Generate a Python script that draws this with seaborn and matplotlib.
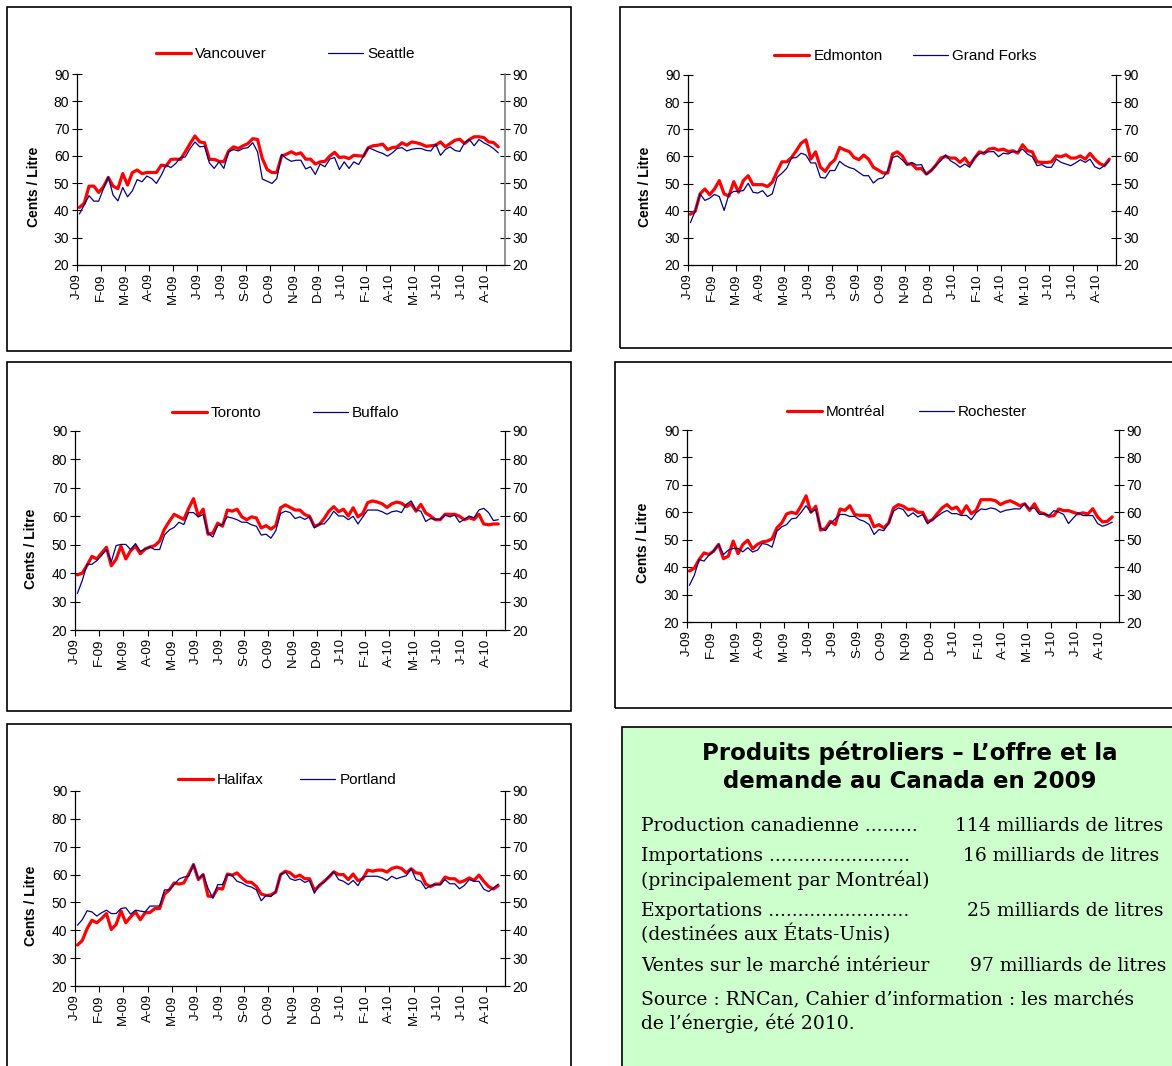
import matplotlib
matplotlib.use("Agg")
import matplotlib.pyplot as plt
from matplotlib.patches import Rectangle
import seaborn as sns

W, H = 1172, 1066

# weekly prices, Jan 2009 - Sep 2010 (cents / litre)
week_labels = ["J-09", "F-09", "M-09", "A-09", "M-09", "J-09", "J-09", "S-09", "O-09",
               "N-09", "D-09", "J-10", "F-10", "A-10", "M-10", "J-10", "J-10", "A-10"]
weeks = list(range(88))

vancouver = [41.1, 42.6, 48.9, 48.9, 46.6, 48.7, 52.1, 48.9, 48.0, 53.5,
             49.3, 53.9, 54.8, 53.5, 53.9, 53.9, 53.9, 56.6, 56.3, 58.7,
             58.8, 58.7, 61.5, 64.5, 67.3, 65.1, 64.8, 58.7, 58.7, 58.0,
             57.8, 61.8, 63.3, 62.7, 63.7, 64.5, 66.3, 66.0, 59.0, 55.0,
             53.9, 53.9, 59.9, 60.6, 61.5, 60.6, 61.1, 58.8, 58.8, 57.0,
             57.8, 58.0, 59.9, 61.3, 59.4, 59.6, 59.0, 60.2, 60.0, 59.9,
             63.0, 63.7, 63.9, 64.3, 62.3, 63.0, 63.3, 64.8, 63.9, 65.1,
             64.8, 64.3, 63.5, 63.7, 63.9, 65.1, 63.3, 64.5, 65.7, 66.1,
             64.5, 66.0, 67.0, 67.0, 66.7, 65.1, 64.9, 63.3]
seattle = [38.7, 42.0, 45.4, 43.4, 43.4, 48.0, 52.3, 45.6, 43.5, 48.4,
           45.0, 47.2, 51.3, 50.5, 52.6, 51.7, 49.9, 52.9, 56.6, 55.7,
           57.2, 59.4, 59.6, 62.7, 65.1, 63.3, 63.5, 57.4, 55.4, 57.8,
           55.4, 61.5, 62.3, 61.8, 62.7, 63.0, 64.8, 61.5, 51.5, 50.7,
           49.9, 51.7, 60.6, 59.0, 58.0, 58.4, 58.4, 55.2, 56.0, 53.2,
           57.0, 56.0, 58.8, 59.4, 55.0, 57.8, 55.4, 57.8, 56.8, 59.9,
           63.0, 62.3, 61.5, 60.9, 59.9, 61.1, 62.7, 63.0, 61.8, 62.4,
           62.7, 62.7, 62.0, 61.8, 64.3, 60.2, 62.3, 63.3, 62.0, 61.6,
           64.8, 66.0, 63.7, 66.0, 64.8, 63.9, 62.7, 61.1]

edmonton = [38.7, 39.8, 46.2, 48.0, 45.9, 48.0, 51.1, 46.2, 45.4, 50.7,
            46.8, 51.1, 52.9, 49.6, 49.6, 49.6, 48.9, 50.5, 54.4, 58.0,
            58.0, 59.6, 62.1, 64.9, 66.1, 59.0, 61.7, 56.0, 54.5, 57.2,
            58.8, 63.3, 62.4, 61.8, 59.6, 58.8, 60.5, 59.0, 56.0, 55.0,
            53.9, 53.9, 60.9, 61.7, 60.2, 57.2, 57.2, 55.4, 55.6, 53.5,
            54.8, 56.8, 59.4, 60.0, 59.4, 59.4, 57.8, 59.4, 56.8, 59.3,
            61.7, 61.1, 62.7, 63.0, 62.3, 62.7, 61.8, 62.1, 61.2, 64.3,
            62.1, 61.7, 58.0, 57.8, 57.8, 58.0, 60.2, 59.9, 60.6, 59.4,
            59.4, 60.2, 59.0, 61.1, 59.0, 57.4, 56.6, 59.0]
grand_forks = [35.6, 39.9, 46.2, 43.8, 44.6, 46.0, 45.2, 40.1, 46.0, 47.1,
               47.2, 47.4, 50.1, 46.8, 46.5, 47.4, 45.2, 46.2, 52.3, 53.8,
               55.6, 59.4, 59.6, 61.2, 60.5, 57.6, 57.6, 52.3, 52.0, 54.8,
               54.8, 58.2, 56.8, 55.9, 55.4, 54.1, 52.9, 52.9, 50.2, 51.7,
               52.1, 54.8, 59.6, 60.2, 58.7, 56.8, 57.8, 56.8, 57.0, 53.3,
               54.8, 56.8, 58.4, 60.6, 58.4, 57.4, 56.0, 57.2, 56.0, 59.6,
               60.9, 61.5, 61.7, 61.8, 59.9, 61.2, 60.9, 61.8, 61.7, 62.7,
               60.9, 59.9, 56.6, 57.0, 56.0, 56.0, 59.0, 57.8, 57.2, 56.6,
               57.6, 58.8, 57.8, 59.0, 56.2, 55.4, 56.6, 58.4]

toronto = [39.4, 40.0, 42.8, 45.9, 45.0, 47.1, 49.1, 42.6, 44.9, 49.5,
           45.0, 47.9, 49.5, 46.8, 48.5, 49.2, 49.7, 51.3, 55.5, 58.2,
           60.7, 59.8, 58.9, 62.8, 66.2, 60.1, 62.5, 53.7, 54.1, 57.6,
           56.5, 62.2, 61.8, 62.5, 59.8, 58.8, 59.8, 59.4, 55.9, 56.7,
           55.5, 56.7, 63.0, 64.0, 63.1, 62.2, 62.2, 60.6, 60.0, 56.4,
           57.1, 59.2, 61.8, 63.4, 61.6, 62.5, 60.1, 63.0, 59.8, 61.0,
           64.8, 65.4, 65.0, 64.4, 63.1, 64.4, 65.0, 64.6, 63.4, 64.4,
           61.8, 64.2, 61.2, 60.1, 58.8, 58.8, 60.7, 60.7, 60.7, 60.0,
           58.8, 59.5, 58.9, 60.7, 57.3, 57.0, 57.3, 57.3]
buffalo = [32.9, 37.4, 43.1, 43.1, 44.4, 46.2, 48.3, 44.0, 49.7, 50.1,
           50.1, 48.3, 50.4, 47.7, 48.5, 49.2, 48.3, 48.3, 53.4, 55.2,
           56.1, 57.9, 57.1, 61.3, 61.3, 59.8, 60.6, 54.0, 52.7, 56.7,
           57.1, 59.8, 59.4, 58.8, 57.9, 57.9, 57.0, 56.5, 53.4, 53.7,
           52.3, 54.9, 61.0, 61.8, 61.3, 59.2, 59.8, 58.9, 59.8, 55.9,
           57.3, 57.3, 59.2, 61.8, 60.1, 60.1, 58.8, 60.0, 57.3, 59.8,
           62.2, 62.2, 62.2, 61.6, 60.7, 61.6, 61.9, 61.3, 64.2, 65.4,
           62.2, 61.8, 58.2, 59.2, 58.9, 58.9, 60.4, 59.8, 60.4, 57.9,
           58.9, 60.1, 59.5, 62.2, 62.8, 61.3, 58.5, 58.8]

montreal = [38.6, 39.6, 42.8, 45.2, 44.6, 45.9, 48.3, 43.1, 44.0, 49.5,
            44.9, 48.3, 49.8, 46.7, 48.3, 49.2, 49.5, 50.3, 54.3, 56.1,
            59.4, 60.0, 59.5, 62.4, 66.0, 60.0, 62.2, 53.5, 54.1, 56.7,
            55.5, 61.2, 60.7, 62.4, 59.2, 58.9, 58.9, 58.8, 54.7, 55.5,
            54.3, 56.1, 61.6, 62.8, 62.2, 61.0, 61.2, 60.0, 60.0, 56.5,
            57.3, 59.5, 61.6, 62.8, 61.2, 61.9, 59.5, 62.4, 59.5, 60.7,
            64.6, 64.6, 64.6, 64.2, 62.8, 63.7, 64.2, 63.4, 62.4, 63.1,
            60.7, 63.1, 60.0, 59.5, 58.5, 58.8, 61.2, 60.6, 60.6, 60.0,
            59.4, 59.8, 59.4, 61.3, 58.3, 56.5, 56.7, 58.3]
rochester = [33.4, 37.0, 42.8, 42.2, 44.3, 45.9, 48.3, 44.6, 46.2, 46.8,
             46.8, 45.6, 47.1, 45.5, 46.2, 48.6, 48.3, 47.3, 53.1, 54.7,
             55.5, 57.6, 57.9, 60.0, 62.4, 60.0, 61.0, 54.3, 53.3, 55.9,
             57.6, 59.2, 59.2, 58.5, 58.5, 57.3, 56.7, 55.5, 51.9, 53.7,
             53.3, 56.1, 60.4, 61.6, 61.0, 58.5, 59.8, 58.3, 59.2, 55.8,
             57.3, 58.5, 59.8, 60.7, 59.5, 59.5, 58.8, 58.9, 57.3, 59.8,
             61.2, 61.0, 61.6, 61.2, 60.0, 60.7, 61.0, 61.3, 61.2, 63.1,
             61.3, 61.6, 59.2, 59.4, 58.8, 60.6, 60.1, 59.2, 55.9, 57.9,
             59.8, 58.8, 58.8, 58.8, 55.9, 54.9, 55.5, 56.4]

halifax = [34.7, 36.3, 40.6, 43.6, 42.7, 44.2, 46.0, 40.3, 42.1, 47.0,
           42.7, 44.8, 46.6, 43.8, 46.3, 46.4, 47.8, 47.8, 53.0, 54.5,
           57.0, 56.6, 57.0, 60.2, 63.6, 58.2, 60.0, 52.3, 52.1, 55.1,
           54.8, 60.2, 59.8, 60.6, 58.8, 57.3, 57.2, 55.7, 53.0, 52.5,
           52.7, 53.7, 60.0, 61.2, 60.6, 59.1, 59.8, 58.5, 58.5, 54.3,
           56.0, 57.6, 59.1, 61.0, 60.0, 60.0, 58.2, 60.2, 57.8, 58.5,
           61.6, 61.2, 61.6, 61.6, 60.9, 62.2, 62.7, 62.2, 60.6, 62.1,
           60.6, 60.4, 56.6, 55.7, 56.6, 56.6, 59.1, 58.5, 58.5, 57.2,
           57.8, 58.8, 57.9, 59.8, 57.6, 55.7, 54.8, 56.0]
portland = [41.8, 43.8, 47.0, 46.6, 45.1, 46.3, 47.2, 46.0, 46.0, 47.8,
            48.1, 45.8, 47.2, 46.9, 46.6, 48.7, 48.7, 48.7, 54.5, 54.5,
            56.4, 58.4, 59.1, 59.4, 63.6, 58.5, 60.0, 55.1, 51.5, 56.4,
            56.4, 60.0, 59.6, 57.6, 57.0, 56.0, 55.5, 54.5, 50.6, 52.5,
            52.1, 53.9, 60.0, 60.9, 58.5, 57.9, 58.4, 57.2, 57.9, 53.3,
            56.4, 57.2, 59.4, 61.0, 58.2, 57.6, 56.4, 57.9, 56.0, 59.1,
            59.4, 59.4, 59.4, 58.8, 57.9, 59.4, 58.5, 59.1, 59.6, 62.1,
            58.2, 57.6, 54.9, 56.0, 56.4, 56.4, 58.2, 56.7, 56.7, 54.9,
            56.1, 58.2, 57.6, 57.6, 54.8, 53.9, 55.1, 56.6]

sns.set_style("ticks")
plt.rcParams["font.family"] = ["Liberation Sans", "DejaVu Sans"]
plt.rcParams.update({"text.color": "black", "axes.labelcolor": "black",
                     "xtick.color": "black", "ytick.color": "black"})

fig = plt.figure(figsize=(W / 100, H / 100), dpi=100)


def fx(x):
    return x / W


def fy(y):
    return 1 - y / H


def frame(x0, y0, x1, y1, face="none"):
    fig.add_artist(Rectangle((fx(x0), fy(y1)), (x1 - x0) / W, (y1 - y0) / H,
                             transform=fig.transFigure, facecolor=face,
                             edgecolor="black", lw=1.2, zorder=0))


# (canadian city, us city, values, values, axes px box, frame px box, legend anchor, column spacing, right spine)
panels = [
    ("Vancouver", "Seattle", vancouver, seattle, (77, 74, 505, 265), (7, 7, 571, 351), (0.487, 1.105), 4.0, "#808080"),
    ("Edmonton", "Grand Forks", edmonton, grand_forks, (688, 75, 1116, 265), (620, 7, 1190, 348), (0.508, 1.10), 2.0, "black"),
    ("Toronto", "Buffalo", toronto, buffalo, (75, 431, 505, 630), (7, 362, 571, 711), (0.49, 1.09), 3.4, "black"),
    ("Montréal", "Rochester", montreal, rochester, (687, 430, 1119, 622), (615, 362, 1190, 708), (0.509, 1.094), 2.2, "black"),
    ("Halifax", "Portland", halifax, portland, (75, 791, 505, 986), (7, 724, 571, 1090), (0.493, 1.056), 2.4, "black"),
]

for can, us, can_vals, us_vals, (l, t, r, b), box, leg_xy, cs, rcol in panels:
    frame(*box)
    ax = fig.add_axes([fx(l), fy(b), (r - l) / W, (b - t) / H])
    ax.patch.set_alpha(0)
    sns.lineplot(x=weeks, y=can_vals, ax=ax, color="#FF0000", linewidth=2.3, label=can)
    sns.lineplot(x=weeks, y=us_vals, ax=ax, color="#000080", linewidth=0.9, label=us)
    ax.set_xlim(-0.5, 88.4)
    ax.set_ylim(20, 90)
    ax.set_yticks(range(20, 91, 10))
    ax.set_xticks([5 * k - 0.5 for k in range(len(week_labels))])
    ax.set_xticklabels(week_labels, rotation=90)
    ax.tick_params(axis="y", direction="inout", length=7, width=0.8, labelsize=10,
                   left=True, right=True, labelleft=True, labelright=True, pad=2)
    ax.tick_params(axis="x", direction="out", length=4, width=0.8, labelsize=9.5, pad=2)
    for side in ("left", "bottom"):
        ax.spines[side].set_color("black")
        ax.spines[side].set_linewidth(0.9)
    ax.spines["right"].set_visible(True)
    ax.spines["right"].set_color(rcol)
    ax.spines["right"].set_linewidth(1.2 if rcol != "black" else 0.9)
    ax.spines["top"].set_visible(False)
    ax.set_xlabel("")
    ax.set_ylabel("Cents / Litre", fontsize=10, fontweight="bold")
    ax.yaxis.set_label_coords(-0.085, 0.41)
    ax.legend(loc="center", bbox_to_anchor=leg_xy, ncol=2, frameon=False, fontsize=11,
              handlelength=2.3, handletextpad=0.25, columnspacing=cs)

# info box
frame(622, 727, 1190, 1090, face="#CCFFCC")
title_kw = dict(ha="center", va="center", fontsize=16.5, fontweight="bold", family="DejaVu Sans")
fig.text(fx(910), fy(753), "Produits pétroliers – L’offre et la", **title_kw)
fig.text(fx(910), fy(782), "demande au Canada en 2009", **title_kw)

body_kw = dict(ha="left", va="center", fontsize=13.5, family="DejaVu Serif")
rows = [
    (826, "Production canadienne .........", 955, "114 milliards de litres"),
    (856, "Importations ........................", 963, "16 milliards de litres"),
    (880, "(principalement par Montréal)", None, ""),
    (911, "Exportations ........................", 967, "25 milliards de litres"),
    (934, "(destinées aux États-Unis)", None, ""),
    (966, "Ventes sur le marché intérieur", 970, "97 milliards de litres"),
    (1000, "Source : RNCan, Cahier d’information : les marchés", None, ""),
    (1023, "de l’énergie, été 2010.", None, ""),
]
for y, left, xr, right in rows:
    fig.text(fx(641), fy(y), left, **body_kw)
    if xr is not None:
        fig.text(fx(xr), fy(y), right, **body_kw)

fig.savefig("out.png", dpi=100)
